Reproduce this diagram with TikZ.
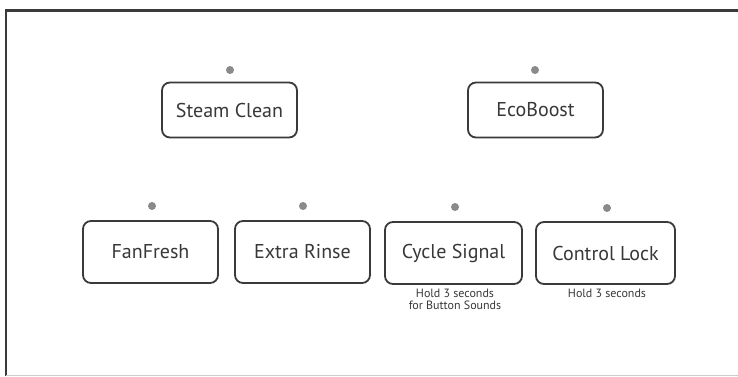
\documentclass[tikz,border=0pt]{standalone}
\usepackage{fontspec}
\setmainfont{PT Sans}
\definecolor{lineg}{HTML}{3A3A3A}
\definecolor{dotg}{HTML}{8A8A8A}
\definecolor{txtg}{HTML}{383838}
\tikzset{
  btn/.style={draw=lineg, line width=1.8pt, rounded corners=8pt, minimum width=135pt, minimum height=55pt, inner sep=0pt, text=txtg, font=\fontsize{20}{24}\selectfont},
  led/.style={circle, fill=dotg, minimum size=8pt, inner sep=0pt},
  captext/.style={text=txtg, font=\fontsize{12}{12}\selectfont, align=center, inner sep=0pt}
}
\begin{document}
\begin{tikzpicture}[x=1pt,y=-1pt]
\useasboundingbox (0,0) rectangle (738,376);
\fill[white] (0,0) rectangle (738,376);
\coordinate (tl) at (6,10.5);
\coordinate (tr) at (738,10.5);
\coordinate (bl) at (6,376);
\coordinate (br) at (738,375);
\coordinate (bl2) at (6,375);
\draw[lineg, line width=2.2pt] (tr) -- (tl) -- (bl);
\draw[gray!40, line width=1pt] (bl2) -- (br);

\node[btn, minimum width=135pt] (steam) at (229.5,110) {Steam Clean};
\node[btn, minimum width=135pt] (eco) at (535.5,110) {EcoBoost};
\node[led] (dsteam) at (230,70) {};
\node[led] (deco) at (535,70) {};

\node[btn, minimum width=135pt, minimum height=62pt] (fan) at (150.5,252) {FanFresh};
\node[btn, minimum width=135pt, minimum height=62pt] (rinse) at (302.5,252) {Extra Rinse};
\node[btn, minimum width=137pt, minimum height=62pt] (cycle) at (453.5,253) {Cycle Signal};
\node[btn, minimum width=139pt, minimum height=62pt] (lock) at (605.5,253) {Control Lock};
\node[led] (dfan) at (152,206) {};
\node[led] (drinse) at (303,206) {};
\node[led] (dcycle) at (455,207) {};
\node[led] (dlock) at (607,208) {};

\node[captext, anchor=north] (ccycle) at (455,289) {Hold 3 seconds\\for Button Sounds};
\node[captext, anchor=north] (clock) at (607,289) {Hold 3 seconds};
\end{tikzpicture}
\end{document}
